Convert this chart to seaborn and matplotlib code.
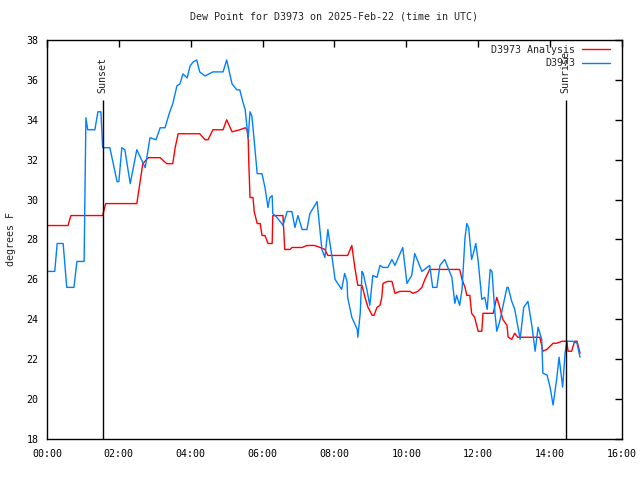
## Dew point chart for D3973, gnuplot look, drawn with seaborn

import numpy as np
import pandas as pd
import matplotlib
matplotlib.use("Agg")
import matplotlib.pyplot as plt
import seaborn as sns

# station observations: minutes after 00:00 UTC and dew point (F)
obs_minutes = [0, 13, 17, 27, 33, 45, 50, 60, 62, 65, 68, 80, 85, 90, 93, 105, 117, 120, 125, 130,
               139, 150, 164, 172, 182, 189, 197, 205, 210, 217, 222, 227, 234, 239, 244, 250, 255, 264, 277, 294,
               300, 309, 317, 322, 327, 331, 334, 336, 339, 342, 344, 347, 351, 359, 364, 369, 372, 376, 377, 384,
               392, 394, 401, 409, 414, 419, 426, 434, 439, 447, 451, 452, 459, 464, 469, 476, 481, 492, 497, 501,
               502, 509, 518, 519, 523, 526, 528, 534, 539, 544, 551, 556, 561, 569, 576, 581, 594, 601, 609, 614,
               626, 639, 644, 651, 656, 664, 676, 681, 684, 689, 693, 698, 701, 704, 709, 711, 716, 720, 726, 731,
               735, 740, 743, 748, 751, 756, 761, 768, 770, 776, 781, 790, 796, 803, 810, 815, 820, 826, 828, 835,
               840, 845, 851, 855, 861, 865, 868, 878, 885, 890]
obs_dewpt = [26.4, 26.4, 27.8, 27.8, 25.6, 25.6, 26.9, 26.9, 26.9, 34.1, 33.5, 33.5, 34.4, 34.4, 32.6, 32.6, 30.9, 30.9, 32.6, 32.5,
             30.8, 32.5, 31.6, 33.1, 33.0, 33.6, 33.6, 34.4, 34.8, 35.7, 35.8, 36.3, 36.1, 36.7, 36.9, 37.0, 36.4, 36.2, 36.4, 36.4,
             37.0, 35.8, 35.5, 35.5, 34.9, 34.5, 33.6, 33.1, 34.4, 34.2, 33.6, 32.6, 31.3, 31.3, 30.6, 29.6, 30.1, 30.2, 29.3, 29.1,
             28.8, 28.7, 29.4, 29.4, 28.6, 29.2, 28.5, 28.5, 29.3, 29.7, 29.9, 29.6, 27.5, 27.1, 28.5, 27.1, 26.0, 25.5, 26.3, 25.9,
             25.1, 24.1, 23.5, 23.1, 24.3, 26.4, 26.3, 25.5, 24.7, 26.2, 26.1, 26.7, 26.6, 26.6, 27.0, 26.7, 27.6, 25.8, 26.2, 27.3,
             26.4, 26.7, 25.6, 25.6, 26.7, 27.0, 26.1, 24.8, 25.2, 24.7, 25.5, 28.1, 28.8, 28.6, 27.0, 27.2, 27.8, 26.9, 25.0, 25.1,
             24.5, 26.5, 26.4, 24.3, 23.4, 23.9, 24.6, 25.6, 25.6, 24.9, 24.5, 23.0, 24.6, 24.9, 23.6, 22.4, 23.6, 23.0, 21.3, 21.2,
             20.6, 19.7, 21.0, 22.1, 20.6, 22.3, 22.9, 22.9, 22.8, 22.1]

# analysis values
ana_minutes = [0, 35, 40, 93, 98, 150, 160, 169, 189, 200, 210, 214, 219, 255, 264, 269, 277, 294, 300, 309,
               322, 331, 334, 336, 337, 339, 344, 346, 351, 356, 359, 364, 369, 376, 377, 394, 397, 406, 409, 426,
               434, 447, 456, 464, 469, 502, 509, 514, 519, 526, 531, 536, 543, 546, 551, 556, 559, 561, 569, 576,
               581, 589, 606, 611, 619, 626, 631, 639, 689, 693, 698, 701, 706, 709, 714, 720, 726, 728, 745, 751,
               756, 761, 768, 770, 776, 781, 786, 823, 828, 835, 845, 851, 860, 868, 870, 876, 881, 885, 890]
ana_dewpt = [28.7, 28.7, 29.2, 29.2, 29.8, 29.8, 31.8, 32.1, 32.1, 31.8, 31.8, 32.6, 33.3, 33.3, 33.0, 33.0, 33.5, 33.5, 34.0, 33.4,
             33.5, 33.6, 33.5, 33.0, 31.8, 30.1, 30.1, 29.4, 28.8, 28.8, 28.2, 28.2, 27.8, 27.8, 29.2, 29.2, 27.5, 27.5, 27.6, 27.6,
             27.7, 27.7, 27.6, 27.5, 27.2, 27.2, 27.7, 26.6, 25.7, 25.7, 25.1, 24.6, 24.2, 24.2, 24.6, 24.7, 25.1, 25.8, 25.9, 25.9,
             25.3, 25.4, 25.4, 25.3, 25.4, 25.6, 26.0, 26.5, 26.5, 26.0, 25.6, 25.2, 25.2, 24.3, 24.1, 23.4, 23.4, 24.3, 24.3, 25.1,
             24.6, 24.0, 23.7, 23.1, 23.0, 23.3, 23.1, 23.1, 22.4, 22.5, 22.8, 22.8, 22.9, 22.9, 22.4, 22.4, 22.9, 22.9, 22.3]

sun_events = ["Sunset", "Sunrise"]
sun_minutes = [93, 866]

hour_ticks = list(range(0, 17, 2))
hour_labels = ["%02d:00" % h for h in hour_ticks]
deg_ticks = list(range(18, 39, 2))

obs = pd.DataFrame({"hour": np.array(obs_minutes) / 60, "dewpt": obs_dewpt})
ana = pd.DataFrame({"hour": np.array(ana_minutes) / 60, "dewpt": ana_dewpt})

sns.set_style("white")
plt.rcParams["font.family"] = ["DejaVu Sans Mono"]
plt.rcParams["font.size"] = 7.2

fig = plt.figure(figsize=(6.4, 4.8), dpi=100)
ax = fig.add_axes([0.0734, 0.0854, 0.8984, 0.8313])

sns.lineplot(data=ana, x="hour", y="dewpt", color="#ff0000", lw=1, label="D3973 Analysis",
             estimator=None, sort=False, ax=ax)
sns.lineplot(data=obs, x="hour", y="dewpt", color="#0080ff", lw=1, label="D3973",
             estimator=None, sort=False, ax=ax)

# sunset / sunrise markers
for name, m in zip(sun_events, sun_minutes):
    ax.vlines(m / 60, 18, 35, color="black", lw=1)
    ax.text(m / 60, 35.35, name, rotation=90, ha="center", va="bottom", fontsize=7.2)

ax.set_xlim(0, 16)
ax.set_ylim(18, 38)
ax.set_xticks(hour_ticks)
ax.set_xticklabels(hour_labels)
ax.set_yticks(deg_ticks)
ax.tick_params(direction="in", length=5, width=1, top=True, right=True, colors="black", pad=7)
ax.tick_params(axis="y", pad=6)
for s in ax.spines.values():
    s.set_color("black")
    s.set_linewidth(1)

ax.set_xlabel("")
ax.set_ylabel("degrees F", labelpad=8)
ax.set_title("Dew Point for D3973 on 2025-Feb-22 (time in UTC)", fontsize=7.2, pad=15)

ax.legend(loc="upper right", bbox_to_anchor=(0.986, 0.9975), frameon=False, markerfirst=False,
          handlelength=2.8, handletextpad=0.7, labelspacing=0.35, borderaxespad=0, fontsize=7.2)

fig.savefig("out.png", dpi=100)
